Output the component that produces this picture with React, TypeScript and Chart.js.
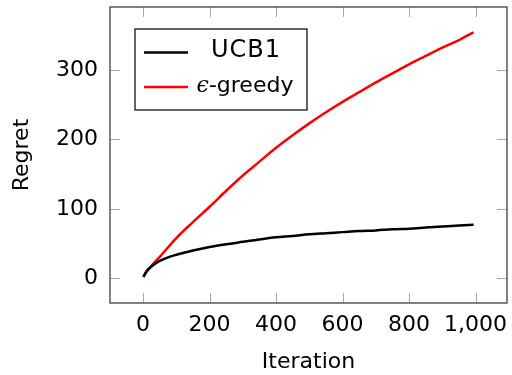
import { useEffect, useRef } from 'react';
import { Chart, registerables } from 'chart.js';

Chart.register(...registerables);

const iterations = [1, 10, 25, 50, 100, 150, 200, 250, 300, 350, 400, 450, 500, 550, 600, 650, 700, 750, 800, 850, 900, 950, 994];
const ucb1Regret = [2, 10, 17, 25, 34, 40, 45, 49, 52.5, 56, 59, 61, 63.5, 65, 66.5, 68, 69, 70.5, 71.5, 73, 74.5, 76, 77];
const epsGreedyRegret = [2, 9, 18, 31, 58, 81, 103, 126, 148, 168, 188, 206, 223, 239, 254, 268, 282, 295, 308, 320, 332, 343, 354];
const seriesLabels = ['UCB1', 'ϵ-greedy'];
const seriesColors = ['#000000', '#ff0000'];
const xLimits = [-99.5, 1094.5];
const yLimits = [-35.5, 390.5];
const xTickValues = [0, 200, 400, 600, 800, 1000];
const yTickValues = [0, 100, 200, 300];
const xTitle = 'Iteration';
const yTitle = 'Regret';

const FONT = "'DejaVu Sans', sans-serif";

const framePlugin = {
  id: 'frameAndTicks',
  afterDatasetsDraw(chart: any) {
    const { ctx, chartArea: a, scales } = chart;
    ctx.save();
    ctx.strokeStyle = '#a8a8a8';
    ctx.lineWidth = 1;
    const len = 10;
    for (const t of scales.x.ticks) {
      const px = Math.round(scales.x.getPixelForValue(t.value)) + 0.5;
      ctx.beginPath();
      ctx.moveTo(px, a.bottom); ctx.lineTo(px, a.bottom - len);
      ctx.moveTo(px, a.top); ctx.lineTo(px, a.top + len);
      ctx.stroke();
    }
    for (const t of scales.y.ticks) {
      const py = Math.round(scales.y.getPixelForValue(t.value)) + 0.5;
      ctx.beginPath();
      ctx.moveTo(a.left, py); ctx.lineTo(a.left + len, py);
      ctx.moveTo(a.right, py); ctx.lineTo(a.right - len, py);
      ctx.stroke();
    }
    ctx.strokeStyle = '#404040';
    ctx.lineWidth = 1.3;
    ctx.strokeRect(a.left, a.top, a.right - a.left, a.bottom - a.top);
    ctx.restore();
  },
  afterDraw(chart: any) {
    const { ctx, chartArea: a } = chart;
    const bx = a.left + 25;
    const by = a.top + 22;
    const bw = 172;
    const bh = 81;
    ctx.save();
    ctx.fillStyle = '#ffffff';
    ctx.fillRect(bx, by, bw, bh);
    ctx.strokeStyle = '#000000';
    ctx.lineWidth = 1.2;
    ctx.strokeRect(bx, by, bw, bh);
    const rows = [by + 23.5, by + 58];
    chart.data.datasets.forEach((ds: any, i: number) => {
      const y = rows[i];
      ctx.strokeStyle = ds.borderColor;
      ctx.lineWidth = 2.5;
      ctx.beginPath();
      ctx.moveTo(bx + 9, y);
      ctx.lineTo(bx + 53, y);
      ctx.stroke();
      ctx.fillStyle = '#000';
      ctx.textBaseline = 'middle';
      const cx = bx + 110;
      const label: string = ds.label;
      if (label.startsWith('ϵ')) {
        const head = label.slice(0, 1);
        const rest = label.slice(1);
        ctx.font = `italic 22px 'DejaVu Serif', serif`;
        const w1 = ctx.measureText(head).width;
        ctx.font = `22px ${FONT}`;
        const w2 = ctx.measureText(rest).width;
        const start = cx - (w1 + w2) / 2;
        ctx.textAlign = 'left';
        ctx.font = `italic 22px 'DejaVu Serif', serif`;
        ctx.fillText(head, start, y - 1);
        ctx.font = `22px ${FONT}`;
        ctx.fillText(rest, start + w1, y - 1);
      } else {
        ctx.textAlign = 'left';
        ctx.font = `24px ${FONT}`;
        (ctx as any).letterSpacing = '1px';
        const w = ctx.measureText(label).width;
        ctx.fillText(label, cx - w / 2 + 1, y - 2);
        (ctx as any).letterSpacing = '0px';
      }
    });
    ctx.restore();
  },
};

export default function App() {
  const ref = useRef<HTMLCanvasElement>(null);
  useEffect(() => {
    if (!ref.current) return;
    const mk = (ys: number[]) => iterations.map((x, i) => ({ x, y: ys[i] }));
    const chart = new Chart(ref.current, {
      type: 'line',
      data: {
        datasets: [
          { label: seriesLabels[0], data: mk(ucb1Regret), borderColor: seriesColors[0], backgroundColor: seriesColors[0], borderWidth: 2.5, pointRadius: 0, cubicInterpolationMode: 'monotone' },
          { label: seriesLabels[1], data: mk(epsGreedyRegret), borderColor: seriesColors[1], backgroundColor: seriesColors[1], borderWidth: 2.5, pointRadius: 0, cubicInterpolationMode: 'monotone' },
        ],
      },
      options: {
        responsive: false,
        animation: false,
        layout: { padding: { left: 0, top: 7, right: 5, bottom: 0 } },
        plugins: { legend: { display: false }, tooltip: { enabled: false } },
        scales: {
          x: {
            type: 'linear',
            min: xLimits[0],
            max: xLimits[1],
            grid: { display: false, drawTicks: false },
            border: { display: false },
            afterBuildTicks: (s: any) => { s.ticks = xTickValues.map((v) => ({ value: v })); },
            ticks: { autoSkip: false, color: '#000', padding: 9, maxRotation: 0, font: { family: FONT, size: 22 }, callback: (v: any) => Number(v).toLocaleString('en-US') },
            title: { display: true, text: xTitle, color: '#000', padding: { top: 0, bottom: 0 }, font: { family: FONT, size: 22, lineHeight: 1.2 } },
            afterFit: (s: any) => { s.height = 72; s.paddingLeft = 0; s.paddingRight = 0; },
          },
          y: {
            type: 'linear',
            min: yLimits[0],
            max: yLimits[1],
            grid: { display: false, drawTicks: false },
            border: { display: false },
            afterBuildTicks: (s: any) => { s.ticks = yTickValues.map((v) => ({ value: v })); },
            ticks: { autoSkip: false, color: '#000', padding: 12, font: { family: FONT, size: 22 } },
            title: { display: true, text: yTitle, color: '#000', padding: { top: 9, bottom: 0 }, font: { family: FONT, size: 22, lineHeight: 1.2 } },
            afterFit: (s: any) => { s.width = 110; s.paddingTop = 0; s.paddingBottom = 0; },
          },
        },
      },
      plugins: [framePlugin],
    });
    return () => chart.destroy();
  }, []);
  return (
    <div style={{ position: 'fixed', left: 0, top: 0, width: 512, height: 375, background: '#fff' }}>
      <canvas ref={ref} width={512} height={375} />
    </div>
  );
}
